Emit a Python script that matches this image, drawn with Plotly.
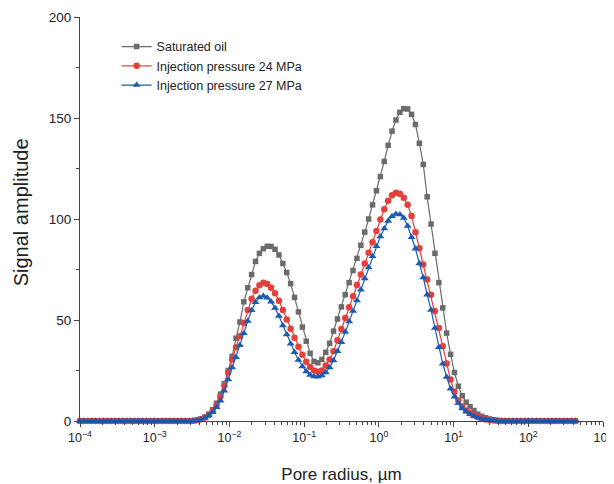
import numpy as np
import plotly.graph_objects as go

# Measurement grid (log-spaced pore radius, µm)
n_points = 128
radius_min = 1e-4
radius_max = 427.0
pore_radius = np.logspace(np.log10(radius_min), np.log10(radius_max), n_points)

saturated_oil = [
    0, 0, 0, 0, 0, 0, 0, 0, 0, 0, 0, 0, 0, 0, 0, 0, 0, 0, 0, 0,
    0, 0, 0, 0, 0, 0, 0, 0, 0,
    0.1, 0.4, 1.0, 1.9, 3.4, 5.6, 8.8, 13.3, 18.5, 25.0,
    32.0, 41.0, 49.0, 59.0, 66.0, 72.5, 79.0, 83.0, 85.3, 86.5,
    86.4, 85.0, 82.2, 78.0, 73.5, 68.0, 61.2, 54.0, 46.5, 39.5,
    33.5, 29.5, 28.8, 30.5, 34.0, 38.5, 44.5, 50.5, 56.5, 62.5,
    68.5, 74.5, 80.5, 87.0, 93.5, 100.0, 107.0, 114.0, 121.0, 128.5,
    136.5, 143.5, 149.0, 152.8, 154.6, 154.5, 151.8, 146.8, 137.5, 127.0,
    111.0, 97.5, 83.0, 68.5, 56.0, 43.5, 33.0, 24.0, 17.2, 12.5,
    9.3, 7.1, 5.2, 3.4, 2.3, 1.6, 1.0, 0.6, 0.3, 0.1,
    0, 0, 0, 0, 0, 0, 0, 0, 0, 0,
    0, 0, 0, 0, 0, 0, 0, 0, 0,
]

injection_24mpa = [
    0, 0, 0, 0, 0, 0, 0, 0, 0, 0, 0, 0, 0, 0, 0, 0, 0, 0, 0, 0,
    0, 0, 0, 0, 0, 0, 0, 0, 0,
    0.1, 0.4, 0.9, 1.7, 3.0, 5.0, 7.8, 12.0, 17.5, 24.0,
    30.5, 36.5, 42.0, 48.5, 55.0, 60.5, 64.5, 67.2, 68.5, 67.8,
    66.0, 63.3, 59.5, 55.0, 50.3, 45.7, 41.2, 36.8, 32.8, 29.3,
    26.7, 25.0, 24.4, 25.0, 27.5, 30.5, 34.5, 40.0, 45.5, 51.0,
    56.3, 61.8, 67.3, 72.5, 78.0, 83.3, 88.5, 94.0, 99.7, 104.8,
    109.0, 111.8, 113.0, 112.5, 110.5, 107.0, 101.5, 93.5, 85.5, 77.5,
    70.0, 62.5, 54.5, 46.0, 37.0, 28.5, 20.5, 14.5, 10.2, 7.2,
    5.2, 3.8, 2.8, 2.0, 1.3, 0.8, 0.5, 0.3, 0.1, 0,
    0, 0, 0, 0, 0, 0, 0, 0, 0, 0,
    0, 0, 0, 0, 0, 0, 0, 0, 0,
]

injection_27mpa = [
    0, 0, 0, 0, 0, 0, 0, 0, 0, 0, 0, 0, 0, 0, 0, 0, 0, 0, 0, 0,
    0, 0, 0, 0, 0, 0, 0, 0, 0,
    0.1, 0.3, 0.8, 1.5, 2.7, 4.3, 6.8, 10.0, 15.0, 20.5,
    26.5, 31.5, 37.5, 43.5, 49.5, 54.8, 58.8, 61.2, 61.9, 61.0,
    59.0, 56.0, 52.0, 47.3, 42.8, 38.2, 34.0, 30.2, 27.0, 24.5,
    22.8, 22.0, 21.9, 22.5, 24.0, 26.5, 30.0, 34.5, 39.0, 44.0,
    49.2, 54.5, 59.7, 65.0, 70.5, 76.0, 81.5, 86.5, 91.3, 95.3,
    99.0, 101.3, 102.5, 102.2, 100.5, 96.5, 91.0, 85.3, 78.0, 71.0,
    62.5, 55.0, 46.0, 36.5, 28.3, 21.8, 16.0, 12.0, 8.8, 6.2,
    4.6, 3.4, 2.4, 1.7, 1.1, 0.8, 0.5, 0.3, 0.15, 0.05,
    0, 0, 0, 0, 0, 0, 0, 0, 0, 0,
    0, 0, 0, 0, 0, 0, 0, 0, 0,
]

series_names = ["Saturated oil", "Injection pressure 24 MPa", "Injection pressure 27 MPa"]

x_tick_vals = [1e-4, 1e-3, 1e-2, 1e-1, 1e0, 1e1, 1e2, 1e3]
x_tick_text = ["10<sup>\u22124</sup>", "10<sup>\u22123</sup>", "10<sup>\u22122</sup>",
               "10<sup>\u22121</sup>", "10<sup>0</sup>", "10<sup>1</sup>",
               "10<sup>2</sup>", "10<sup>3</sup>"]
y_tick_vals = [0, 50, 100, 150, 200]

minor_x = [m * 10.0 ** e for e in range(-4, 3) for m in range(2, 10)]

styles = [
    dict(color="#6b6b6b", symbol="square", size=5.5),
    dict(color="#e5403b", symbol="circle", size=6.5),
    dict(color="#1a5cb2", symbol="triangle-up", size=7),
]

fig = go.Figure()
for name, vals, st in zip(series_names, [saturated_oil, injection_24mpa, injection_27mpa], styles):
    fig.add_trace(go.Scatter(
        x=pore_radius, y=vals, name=name, mode="lines+markers",
        line=dict(color=st["color"], width=1.2),
        marker=dict(color=st["color"], symbol=st["symbol"], size=st["size"], line=dict(width=0)),
        cliponaxis=False,
    ))

font_family = "Arial, Liberation Sans, Helvetica, sans-serif"
axis_color = "#444444"

# The page body has an 8px default margin, so the figure is sized/margined to
# place the plot area at the same window position as the reference.
fig.update_layout(
    width=606, height=476,
    margin=dict(l=72, r=11, t=9, b=63),
    paper_bgcolor="white", plot_bgcolor="white",
    font=dict(family=font_family, color="#222222", size=13),
    showlegend=True,
    legend=dict(
        x=0.07, y=0.963, xanchor="left", yanchor="top",
        bgcolor="rgba(0,0,0,0)", borderwidth=0,
        font=dict(size=12.5, color="#222222"),
        tracegroupgap=0, itemsizing="trace",
    ),
    xaxis=dict(
        type="log", range=[-4, 3], automargin=False,
        tickvals=x_tick_vals, ticktext=x_tick_text,
        ticks="outside", ticklen=5, tickwidth=1.1, tickcolor=axis_color,
        minor=dict(ticks="outside", ticklen=3, tickwidth=1, tickcolor=axis_color, tickvals=minor_x, showgrid=False),
        showline=True, linecolor=axis_color, linewidth=1.2,
        showgrid=False, zeroline=False,
        tickfont=dict(size=12.5),
        title=dict(text="Pore radius, \u00b5m", font=dict(size=17), standoff=24),
    ),
    yaxis=dict(
        range=[0, 200], tickvals=y_tick_vals, automargin=False,
        ticks="outside", ticklen=5, tickwidth=1.1, tickcolor=axis_color,
        minor=dict(ticks="outside", ticklen=3, tickwidth=1, tickcolor=axis_color, dtick=25, showgrid=False),
        showline=True, linecolor=axis_color, linewidth=1.2,
        showgrid=False, zeroline=False,
        tickfont=dict(size=13.5),
    ),
    annotations=[dict(
        text="Signal amplitude", textangle=-90, showarrow=False,
        xref="paper", yref="paper", x=-0.1125, y=0.517,
        xanchor="center", yanchor="middle",
        font=dict(size=20, color="#222222"),
    )],
)

fig.write_html("out.html")
